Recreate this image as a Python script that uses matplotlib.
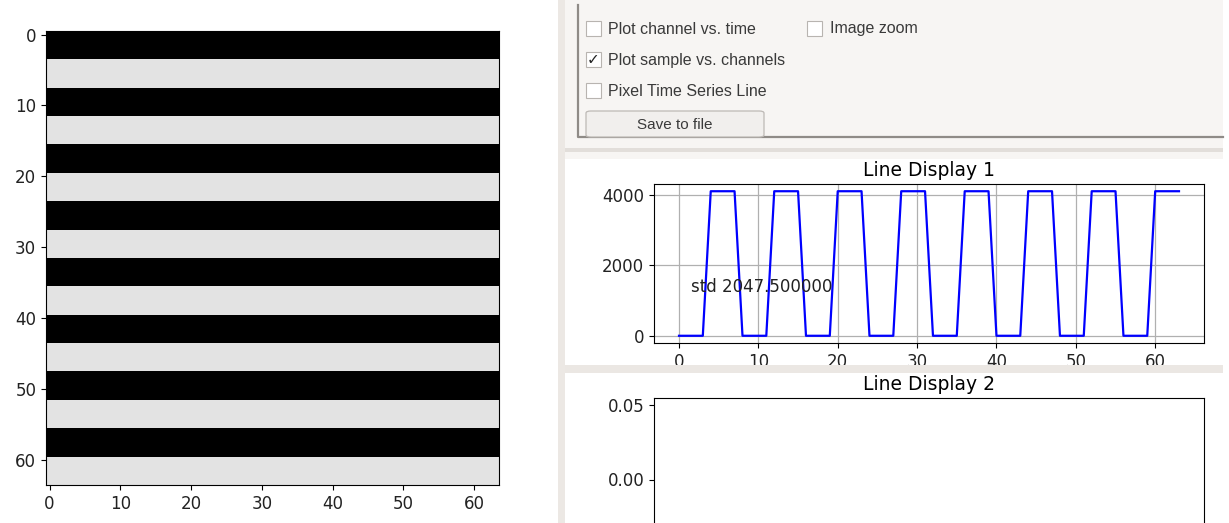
import numpy as np
import matplotlib
matplotlib.use('Agg')
import matplotlib.pyplot as plt
from matplotlib.patches import Rectangle, FancyBboxPatch
from matplotlib.lines import Line2D

# ─── DATOS ────────────────────────────────────────────────────
# valores de una columna de la imagen (filas 0..63)
line_values = [
    0, 0, 0, 0, 4095, 4095, 4095, 4095,
    0, 0, 0, 0, 4095, 4095, 4095, 4095,
    0, 0, 0, 0, 4095, 4095, 4095, 4095,
    0, 0, 0, 0, 4095, 4095, 4095, 4095,
    0, 0, 0, 0, 4095, 4095, 4095, 4095,
    0, 0, 0, 0, 4095, 4095, 4095, 4095,
    0, 0, 0, 0, 4095, 4095, 4095, 4095,
    0, 0, 0, 0, 4095, 4095, 4095, 4095,
]
n_cols = 64
img_ticks = [0, 10, 20, 30, 40, 50, 60]
line1_yticks = [0, 2000, 4000]
line2_yticks = [0.00, 0.05]
line2_yticklabels = ["0.00", "0.05"]

checkbox_labels = ["Plot channel vs. time", "Plot sample vs. channels",
                   "Pixel Time Series Line"]
checkbox_state = [False, True, False]

W, H = 1229, 523
GUI_BG = "#f7f5f3"
SEP = "#ebe7e3"
TXT = "#3a3a3a"


def box(x0, y0, x1, y1):
    """Pixel box (desde arriba-izquierda) -> fracciones de figura."""
    return [x0 / W, 1 - y1 / H, (x1 - x0) / W, (y1 - y0) / H]


def rect(fig, x0, y0, x1, y1, color, z=-1, ec="none", lw=0):
    b = box(x0, y0, x1, y1)
    fig.patches.append(Rectangle((b[0], b[1]), b[2], b[3], transform=fig.transFigure,
                                 facecolor=color, edgecolor=ec, linewidth=lw, zorder=z))


def linea(fig, xs, ys, color, lw, z=1):
    fig.lines.append(Line2D([x / W for x in xs], [1 - y / H for y in ys],
                            transform=fig.transFigure, color=color, lw=lw, zorder=z))


def texto(fig, x, y, s, **kw):
    fig.text(x / W, 1 - y / H, s, **kw)


fig = plt.figure(figsize=(W / 100, H / 100), dpi=100)

# ─── IMAGEN IZQUIERDA ─────────────────────────────────────────
img = np.tile(np.array(line_values, dtype=float)[:, None], (1, n_cols))
ax_img = fig.add_axes(box(46, 31, 499, 485))
ax_img.imshow(img, cmap="gray", vmin=0, vmax=4600, aspect="auto",
              interpolation="nearest")
ax_img.set_xticks(img_ticks)
ax_img.set_yticks(img_ticks)
ax_img.tick_params(labelsize=12, labelcolor="#222222")

# ─── PANEL GUI (fondo) ────────────────────────────────────────
rect(fig, 558, 0, 565, H, "#ece8e4")
rect(fig, 565, 0, 1223, 159, GUI_BG)
rect(fig, 565, 148, 1223, 152, "#e2deda")
linea(fig, [578, 578, 1223], [5, 137, 137], "#8f8b87", 1.6)

# checkboxes
ys = [29, 60, 91]
for lbl, st, y in zip(checkbox_labels, checkbox_state, ys):
    rect(fig, 586, y - 8, 601, y + 7, "white", z=1, ec="#b8b4b0", lw=0.8)
    if st:
        texto(fig, 593.5, y, "\u2713", fontsize=11, ha="center", va="center",
              color="#222222", family="DejaVu Sans")
    texto(fig, 608, y, lbl, fontsize=11.5, va="center", color=TXT,
          family="Liberation Sans")
rect(fig, 807, 21, 822, 36, "white", z=1, ec="#b8b4b0", lw=0.8)
texto(fig, 830, 29, "Image zoom", fontsize=11.5, va="center", color=TXT,
      family="Liberation Sans")

# boton
b = box(586, 111, 764, 137)
fig.patches.append(FancyBboxPatch((b[0], b[1]), b[2], b[3],
                                  boxstyle="round,pad=0,rounding_size=0.004",
                                  transform=fig.transFigure, facecolor="#f1efed",
                                  edgecolor="#bdb9b5", linewidth=0.9, zorder=1))
texto(fig, 675, 125, "Save to file", fontsize=11, ha="center", va="center",
      color=TXT, family="Liberation Sans")

# ─── LINE DISPLAY 1 ───────────────────────────────────────────
ax1 = fig.add_axes(box(654, 184, 1204, 343))
x = np.arange(len(line_values))
ax1.plot(x, line_values, color="blue", lw=1.6)
ax1.grid(True, color="#b0b0b0", lw=0.9)
ax1.set_yticks(line1_yticks)
ax1.set_xticks(img_ticks)
ax1.tick_params(labelsize=12, labelcolor="#222222")
ax1.set_title("Line Display 1", fontsize=13.5)
ax1.text(1.5, 1390, "std %f" % np.std(line_values), fontsize=12, va="center",
         color="#222222")

# separador entre paneles (tapa las etiquetas del eje x)
rect(fig, 565, 365, 1223, 373, SEP, z=5)

# ─── LINE DISPLAY 2 ───────────────────────────────────────────
ax2 = fig.add_axes(box(654, 398, 1204, 561))
ax2.set_ylim(-0.055, 0.055)
ax2.set_yticks(line2_yticks)
ax2.set_yticklabels(line2_yticklabels)
ax2.set_xticks([])
ax2.tick_params(labelsize=12, labelcolor="#222222")
ax2.set_title("Line Display 2", fontsize=13.5)

plt.savefig("out.png", dpi=100)
plt.close()
